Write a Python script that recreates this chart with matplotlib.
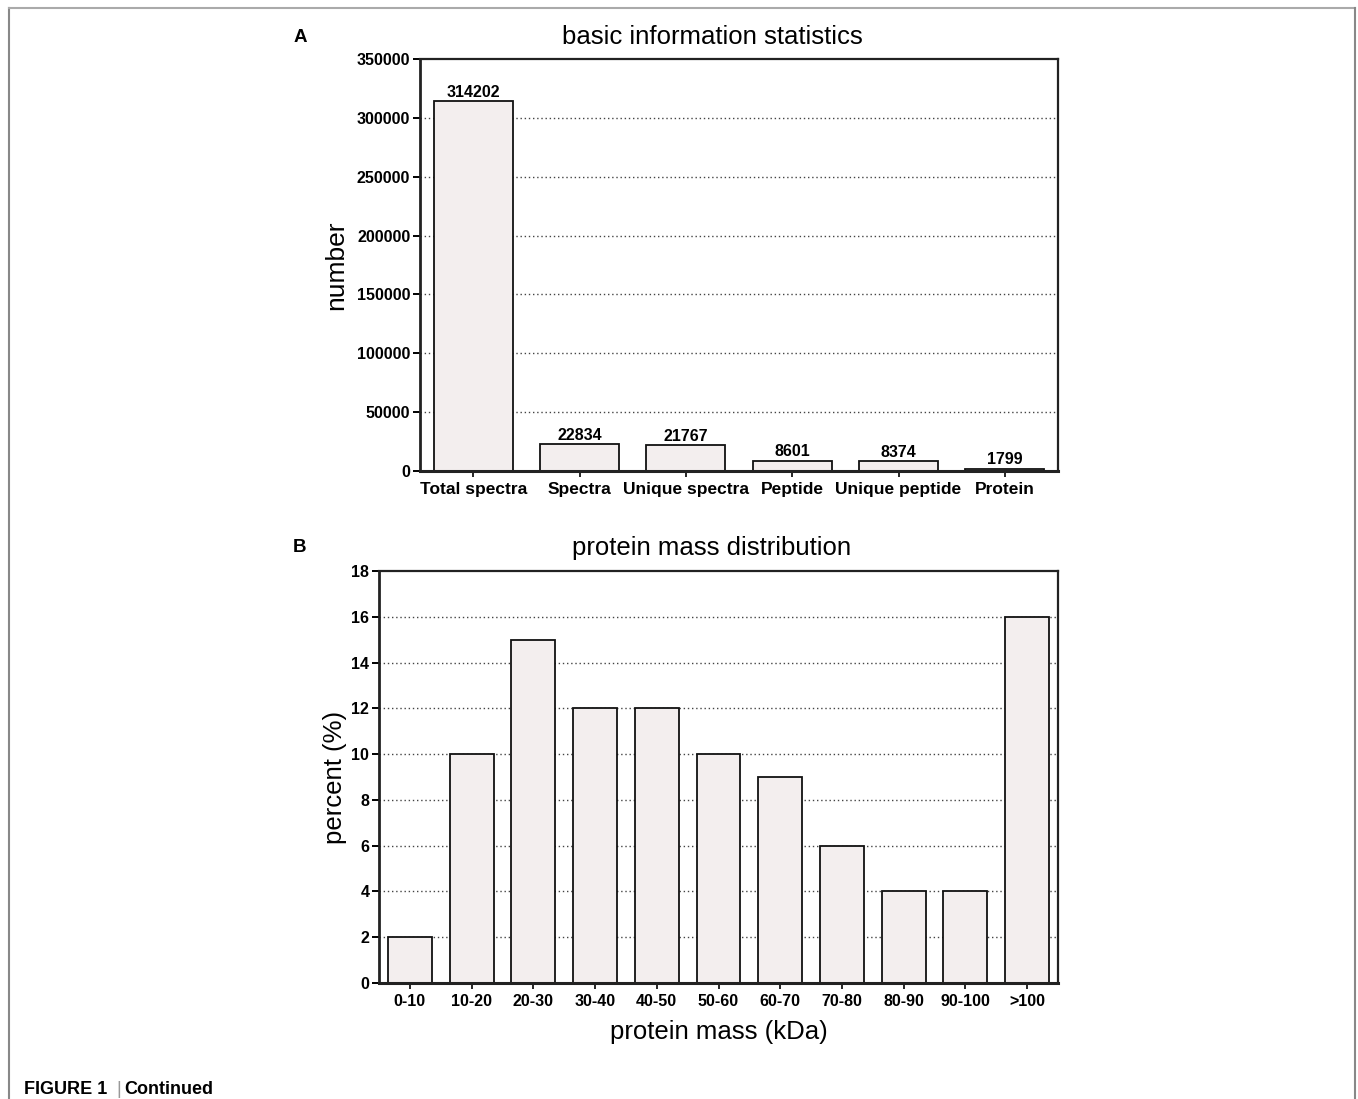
import matplotlib
matplotlib.use("Agg")
import matplotlib.pyplot as plt
from matplotlib import font_manager as fm
from matplotlib.lines import Line2D
import numpy as np

# ---- data ----
cats_a = ["Total spectra", "Spectra", "Unique spectra", "Peptide", "Unique peptide", "Protein"]
vals_a = [314202, 22834, 21767, 8601, 8374, 1799]
yticks_a = [0, 50000, 100000, 150000, 200000, 250000, 300000, 350000]

cats_b = ["0-10", "10-20", "20-30", "30-40", "40-50", "50-60", "60-70", "70-80", "80-90", "90-100", ">100"]
vals_b = [2, 10, 15, 12, 12, 10, 9, 6, 4, 4, 16]
yticks_b = [0, 2, 4, 6, 8, 10, 12, 14, 16, 18]

names = {f.name for f in fm.fontManager.ttflist}
NARROW = "Liberation Sans Narrow" if "Liberation Sans Narrow" in names else "Liberation Sans"
SANS = "Liberation Sans"

W, H = 1358, 1099
fig = plt.figure(figsize=(W / 100, H / 100), dpi=100)

BAR = "#f3eeee"

def style_axes(ax, yticks, ylab_size):
    for s in ax.spines.values():
        s.set_linewidth(1.6)
        s.set_color("#222222")
    ax.spines["bottom"].set_linewidth(2.2)
    ax.spines["left"].set_linewidth(2.0)
    ax.set_yticks(yticks)
    ax.set_ylim(yticks[0], yticks[-1])
    ax.tick_params(axis="y", direction="out", length=5, width=1.4, pad=2, labelsize=ylab_size)
    ax.tick_params(axis="x", direction="out", length=4, width=1.2, pad=4)
    for t in ax.get_yticklabels():
        t.set_fontweight("bold")
        t.set_family(SANS)
    for yv in yticks[1:-1]:
        ax.axhline(yv, color="#444444", lw=1.0, ls=(0, (1, 2)), zorder=0)

# ---- Panel A ----
axA = fig.add_axes([420 / W, 1 - 471 / H, (1058 - 420) / W, 412 / H])
xa = np.arange(len(cats_a))
axA.bar(xa, vals_a, width=0.74, color=BAR, edgecolor="#111111", linewidth=1.3, zorder=2)
axA.set_xlim(-0.5, len(cats_a) - 0.5)
style_axes(axA, yticks_a, 11.5)
axA.set_xticks(xa)
axA.set_xticklabels(cats_a, fontweight="bold", fontsize=12.5, family=SANS)
for x, v in zip(xa, vals_a):
    axA.text(x, v + 1200, str(v), ha="center", va="bottom", fontsize=11.5, fontweight="bold", family=SANS)
axA.set_ylabel("number", fontsize=19, family=NARROW, labelpad=6)

# ---- Panel B ----
axB = fig.add_axes([379 / W, 1 - 983 / H, (1058 - 379) / W, 412 / H])
xb = np.arange(len(cats_b))
axB.bar(xb, vals_b, width=0.71, color=BAR, edgecolor="#111111", linewidth=1.3, zorder=2)
axB.set_xlim(-0.5, len(cats_b) - 0.5)
style_axes(axB, yticks_b, 11.5)
axB.set_xticks(xb)
axB.set_xticklabels(cats_b, fontweight="bold", fontsize=11.5, family=SANS)
axB.set_ylabel("percent (%)", fontsize=18.5, family=NARROW, labelpad=3)
axB.set_xlabel("protein mass (kDa)", fontsize=18.5, family=NARROW, labelpad=8)

# ---- titles and panel letters ----
fig.text(712 / W, 1 - 37 / H, "basic information statistics", ha="center", va="center", fontsize=18.5, family=NARROW)
fig.text(712 / W, 1 - 548 / H, "protein mass distribution", ha="center", va="center", fontsize=18.5, family=NARROW)
fig.text(300 / W, 1 - 37 / H, "A", ha="center", va="center", fontsize=13.5, fontweight="bold", family=SANS)
fig.text(300 / W, 1 - 548 / H, "B", ha="center", va="center", fontsize=13.5, fontweight="bold", family=SANS)

# ---- frame & caption ----
fig.add_artist(Line2D([9 / W, 9 / W], [0, 1 - 8 / H], transform=fig.transFigure, color="#888888", lw=1.5))
fig.add_artist(Line2D([9 / W, 1355 / W], [1 - 8 / H, 1 - 8 / H], transform=fig.transFigure, color="#aaaaaa", lw=1.5))
fig.add_artist(Line2D([1355 / W, 1355 / W], [0, 1 - 8 / H], transform=fig.transFigure, color="#888888", lw=1.5))
fig.text(24 / W, 1 - 1089 / H, "FIGURE 1", ha="left", va="center", fontsize=13, fontweight="bold", family=SANS)
fig.text(119 / W, 1 - 1089 / H, "|", ha="center", va="center", fontsize=13, color="#999999", family=SANS)
fig.text(124 / W, 1 - 1089 / H, "Continued", ha="left", va="center", fontsize=13, fontweight="bold", family=SANS)

fig.savefig("out.png", dpi=100)
